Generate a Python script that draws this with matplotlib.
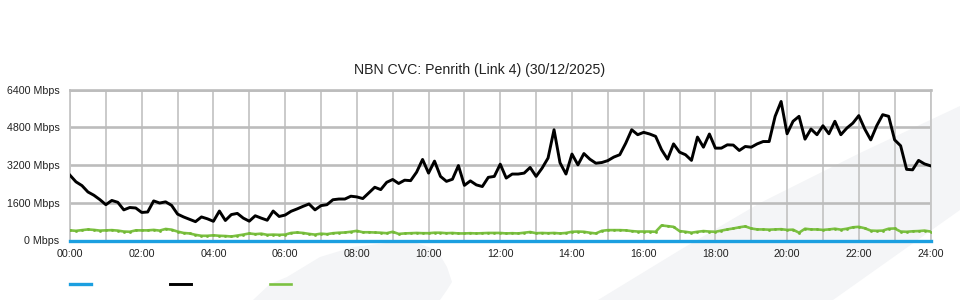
import matplotlib
matplotlib.use("Agg")
import matplotlib.pyplot as plt
import numpy as np
from matplotlib.patches import Polygon

plt.rcParams['font.family'] = ['Liberation Sans', 'DejaVu Sans']

TITLE = "NBN CVC: Penrith (Link 4) (30/12/2025)"
x_tick_hours = list(range(0, 25, 2))
x_tick_labels = ["00:00", "02:00", "04:00", "06:00", "08:00", "10:00", "12:00",
                 "14:00", "16:00", "18:00", "20:00", "22:00", "24:00"]
y_ticks = [0, 1600, 3200, 4800, 6400]
y_tick_labels = ["0 Mbps", "1600 Mbps", "3200 Mbps", "4800 Mbps", "6400 Mbps"]

# 10-minute samples, Mbps
black_series = [
    2770, 2490, 2330, 2060, 1920, 1735,
    1520, 1700, 1620, 1300, 1400, 1380,
    1190, 1210, 1680, 1590, 1640, 1490,
    1120, 1000, 900, 800, 1000, 920,
    815, 1250, 850, 1100, 1150, 950,
    820, 1050, 950, 860, 1250, 1020,
    1080, 1240, 1340, 1450, 1550, 1300,
    1480, 1520, 1730, 1760, 1760, 1880,
    1850, 1780, 2020, 2260, 2160, 2470,
    2590, 2420, 2560, 2540, 2900, 3440,
    2860, 3370, 2720, 2510, 2600, 3180,
    2340, 2530, 2360, 2290, 2680, 2720,
    3240, 2650, 2820, 2820, 2860, 3100,
    2720, 3070, 3500, 4700, 3300, 2820,
    3670, 3210, 3690, 3450, 3280, 3310,
    3390, 3540, 3640, 4130, 4700, 4490,
    4590, 4520, 4420, 3850, 3450, 4100,
    3750, 3640, 3400, 4390, 3960, 4520,
    3920, 3920, 4060, 4050, 3820, 3990,
    3960, 4100, 4200, 4200, 5270, 5900,
    4530, 5060, 5270, 4300, 4730, 4490,
    4870, 4530, 5060, 4490, 4770, 4980,
    5300, 4730, 4270, 4870, 5340, 5270,
    4270, 4020, 3020, 3000, 3400, 3250,
    3170,
]

green_series = [
    430, 410, 440, 470, 450, 420,
    430, 440, 420, 380, 370, 430,
    430, 430, 450, 420, 490, 460,
    380, 320, 300, 240, 200, 200,
    220, 200, 190, 170, 210, 250,
    300, 270, 290, 240, 250, 240,
    250, 320, 340, 320, 280, 250,
    290, 270, 310, 330, 340, 370,
    410, 350, 350, 340, 330, 310,
    370, 280, 300, 310, 320, 310,
    310, 330, 330, 310, 320, 300,
    300, 310, 300, 310, 320, 320,
    320, 300, 310, 300, 330, 360,
    310, 320, 310, 320, 300, 320,
    370, 380, 370, 330, 300, 410,
    440, 440, 440, 430, 400, 380,
    380, 380, 370, 640, 610, 580,
    400, 370, 330, 370, 400, 380,
    370, 420, 470, 510, 560, 600,
    510, 470, 470, 460, 470, 480,
    450, 460, 330, 500, 470, 470,
    450, 470, 500, 460, 500, 560,
    580, 520, 420, 410, 420, 500,
    510, 380, 370, 390, 400, 420,
    380,
]

blue_series = [0] * len(black_series)

times = np.arange(len(black_series)) / 6.0

W, H = 960, 300
fig = plt.figure(figsize=(W / 100, H / 100), dpi=100)
fig.patch.set_facecolor('white')


def fp(pts):
    return [(x / W, 1 - y / H) for x, y in pts]


bg = '#f4f5f7'
blob = [(253, 300), (270, 284), (287, 277), (320, 257), (353, 247), (387, 243),
        (417, 243), (437, 250), (447, 267), (452, 282), (447, 290), (440, 300)]
band = [(598, 300), (680, 250), (760, 203), (860, 153), (960, 106),
        (960, 210), (833, 300)]
for pts in (blob, band):
    fig.add_artist(Polygon(fp(pts), closed=True, transform=fig.transFigure,
                           facecolor=bg, edgecolor='none', zorder=-5))

left, right, top, bottom = 70, 930.5, 89.7, 240.5
ax = fig.add_axes([left / W, 1 - bottom / H, (right - left) / W, (bottom - top) / H])
ax.set_facecolor('none')

ax.set_xlim(0, 24)
ax.set_ylim(0, 6400)
ax.set_xticks(x_tick_hours)
ax.set_xticklabels(x_tick_labels)
ax.set_xticks(range(0, 25), minor=True)
ax.set_yticks(y_ticks)
ax.set_yticklabels(y_tick_labels)
ax.tick_params(axis='both', which='both', length=0)
ax.tick_params(axis='x', pad=6, labelsize=7.7, colors='#222222')
ax.tick_params(axis='y', pad=7.5, labelsize=7.7, colors='#222222')

ax.grid(True, axis='x', which='both', color='#c6c6c6', lw=1.3)
ax.grid(True, axis='y', which='major', color='#bcbcbc', lw=1.9)
ax.set_axisbelow(True)
for s in ('left', 'right'):
    ax.spines[s].set_color('#c6c6c6')
    ax.spines[s].set_linewidth(1.3)
ax.spines['top'].set_color('#bcbcbc')
ax.spines['top'].set_linewidth(1.9)
ax.spines['bottom'].set_visible(False)

l_blue, = ax.plot(times, blue_series, color='#1b9fe0', lw=2.4, clip_on=False, zorder=3)
l_black, = ax.plot(times, black_series, color='#000000', lw=2.1, zorder=4,
                   solid_joinstyle='round')
l_green, = ax.plot(times, green_series, color='#7cc142', lw=1.9, zorder=3,
                   marker='s', ms=0.9, mfc='#72b836', mec='#72b836')

fig.text(0.5, 1 - 70 / H, TITLE, ha='center', va='center', fontsize=10.2,
         color='#222222')

fig.legend(handles=[l_blue, l_black, l_green], labels=['', '', ''],
           loc='center left', bbox_to_anchor=(left / W, 1 - 285 / H),
           ncol=3, frameon=False, fontsize=8, handlelength=1.9,
           handletextpad=0.8, columnspacing=6.3, borderpad=0, borderaxespad=0,
           markerscale=0)

fig.savefig('out.png', dpi=100, facecolor='white')
